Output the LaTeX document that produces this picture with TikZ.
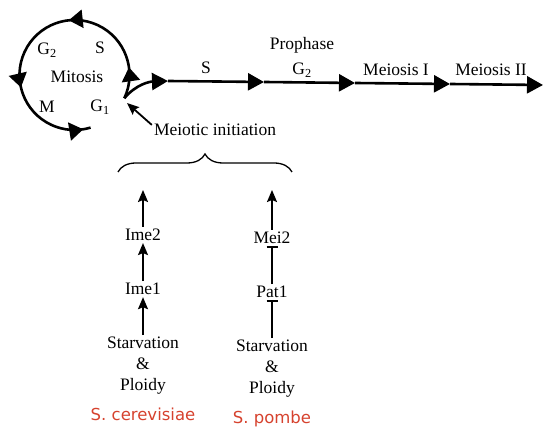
\documentclass[tikz,border=0pt]{standalone}
\usepackage{fontspec}
\setmainfont{Liberation Serif}
\newfontfamily\speciesfont{DejaVu Sans}
\usepackage{tikz}
\usetikzlibrary{arrows.meta, positioning, calc, decorations.pathreplacing, decorations.markings}
\definecolor{speciesred}{RGB}{214,66,46}

\begin{document}
\begin{tikzpicture}[x=1pt,y=1pt,node distance=38pt,
  every node/.style={font=\fontsize{17.5}{21}\selectfont, inner sep=2pt},
  phase/.style={line width=2.6pt, -{Triangle[length=16pt,width=17pt]}},
  cycle/.style={line width=2.6pt, decoration={markings,
      mark=at position 0.106 with {\arrow{Triangle[length=14pt,width=18pt]}},
      mark=at position 0.388 with {\arrow{Triangle[length=14pt,width=18pt]}},
      mark=at position 0.699 with {\arrow{Triangle[length=14pt,width=18pt]}},
      mark=at position 0.975 with {\arrow{Triangle[length=14pt,width=18pt]}}},
    postaction={decorate}},
  up/.style={line width=1.8pt, -{Stealth[length=12pt,width=10pt,inset=2pt]}},
  block/.style={line width=1.8pt, -{Bar[width=11pt,line width=1.8pt]}},
  species/.style={font=\speciesfont\fontsize{16.5}{19}\selectfont, text=speciesred}]
\useasboundingbox (0,0) rectangle (543,427);

% mitotic cycle
\coordinate (O) at (74.5,352);
\draw[cycle] (O) ++(-25:55) arc[start angle=-25, end angle=287, radius=55];
\coordinate (exit) at ($(O)+(-25:55)$);

\node (G2) at (47,377) {G\textsubscript{2}};
\node (S) at (100,379) {S};
\node (Mit) at (77,350) {Mitosis};
\node (M) at (47,320) {M};
\node (G1) at (100,320) {G\textsubscript{1}};

% meiotic pathway
\coordinate (A) at (168,346);
\coordinate (B) at (264,345);
\coordinate (C) at (355,344);
\coordinate (D) at (450,343);
\coordinate (E) at (543,342);
\draw[phase] (exit) to[out=50,in=182] (A);
\draw[phase] (A) -- (B);
\draw[phase] (B) -- (C);
\draw[phase] (C) -- (D);
\draw[phase] (D) -- (E);

\node (Sm) at (206,359) {S};
\node (Pro) at (302,382) {Prophase};
\node (G2m) at (302,357) {G\textsubscript{2}};
\node (MI) at (396,357) {Meiosis I};
\node (MII) at (491,357) {Meiosis II};

\node (Init) at (215,297) {Meiotic initiation};
\coordinate (gap) at (127,324);
\draw[up] ([yshift=-3pt]Init.north west) -- (gap);

\coordinate (bl) at (118,255);
\coordinate (br) at (292,255);
\draw[line width=1.3pt, decorate, decoration={brace, amplitude=18pt}] (bl) -- (br);

% S. cerevisiae
\coordinate (L) at (143,237);
\node (Ime2) at (143,192) {Ime2};
\node (Ime1) [below=of Ime2] {Ime1};
\node (StL) [below=of Ime1, align=center] {Starvation\\\&\\Ploidy};
\node (Sc) [below=9pt of StL, species] {S. cerevisiae};

\path[up] (Ime2) edge (L);
\path[up] (Ime1) edge (Ime2);
\path[up] (StL) edge (Ime1);

% S. pombe
\coordinate (R) at (272,237);
\node (Mei2) at (272,189) {Mei2};
\node (Pat1) [below=of Mei2] {Pat1};
\node (StR) [below=of Pat1, align=center] {Starvation\\\&\\Ploidy};
\node (Sp) [below=9pt of StR, species] {S. pombe};

\path[up] (Mei2) edge (R);
\path[block] (Pat1) edge (Mei2);
\path[block] (StR) edge (Pat1);
\end{tikzpicture}
\end{document}
